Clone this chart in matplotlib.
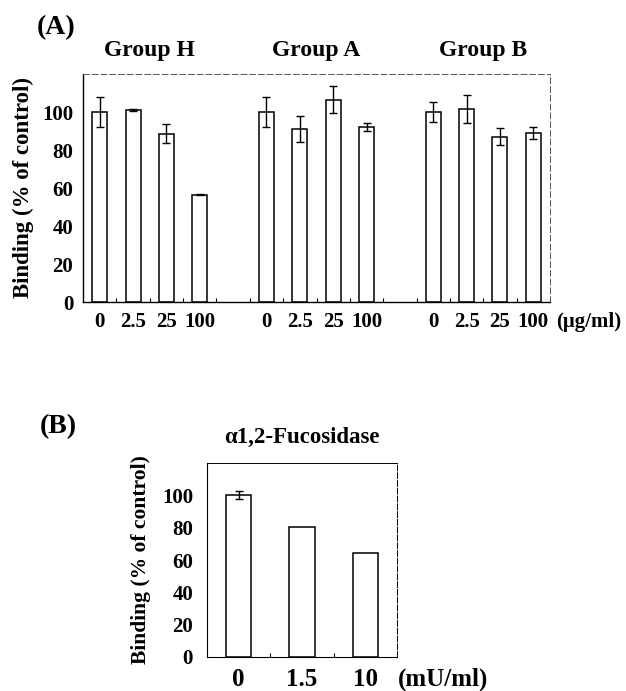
import numpy as np
import matplotlib
matplotlib.use('Agg')
import matplotlib.pyplot as plt

plt.rcParams['font.family'] = ['Liberation Serif', 'DejaVu Serif']
plt.rcParams['font.weight'] = 'bold'

# Panel A data
groups = ['Group H', 'Group A', 'Group B']
doses = ['0', '2.5', '25', '100']
vals_H = [100, 101, 88.5, 56.5]
err_H = [8, 0.5, 5, 0.4]
vals_A = [100, 91, 106.5, 92]
err_A = [8, 7, 7, 2]
vals_B = [100, 101.5, 87, 89]
err_B = [5.5, 7.5, 4.5, 3]

# Panel B data
fuc_doses = ['0', '1.5', '10']
fuc_vals = [100, 80.5, 64.5]
fuc_err = [2.5, 0, 0]

fig = plt.figure(figsize=(6.26, 6.91), dpi=100)

#### Panel A ####
ax1 = fig.add_axes([83/626, 1-302/691, 467/626, 228/691])
all_vals = [vals_H, vals_A, vals_B]
all_err = [err_H, err_A, err_B]
xpos = []
xlabels = []
for g in range(3):
    x = np.arange(4) + 5*g
    ax1.bar(x, all_vals[g], width=0.45, color='white', edgecolor='black', lw=1.1)
    ax1.errorbar(x, all_vals[g], yerr=all_err[g], fmt='none', ecolor='black',
                 elinewidth=1, capsize=3, capthick=1)
    xpos += list(x)
    xlabels += doses
    ax1.text(x.mean(), 1.105, groups[g], transform=ax1.get_xaxis_transform(),
             ha='center', va='center', fontsize=17, fontweight='bold')

ax1.set_xlim(-0.5, 13.5)
ax1.set_ylim(0, 120)
ax1.set_yticks([0, 20, 40, 60, 80, 100])
ax1.set_xticks(xpos)
ax1.set_xticklabels(xlabels)
ax1.set_xticks(np.arange(0.5, 13.5, 1), minor=True)
ax1.tick_params(axis='y', length=0, pad=7, labelsize=15)
ax1.tick_params(axis='x', which='major', length=0, pad=7, labelsize=15)
ax1.tick_params(axis='x', which='minor', direction='in', length=3, width=0.8)
ax1.set_ylabel('Binding (% of control)', fontsize=16.5, fontweight='bold', labelpad=6)
for s in ['top', 'right']:
    ax1.spines[s].set_linestyle((0, (6, 3)))
    ax1.spines[s].set_linewidth(0.7)
    ax1.spines[s].set_color('#555555')
ax1.spines['left'].set_linewidth(1)
ax1.spines['bottom'].set_linewidth(1)
ax1.text(13.68, -0.088, '(\u03bcg/ml)', transform=ax1.get_xaxis_transform(),
         ha='left', va='center', fontsize=15, fontweight='bold')
fig.text(37/626, 1-28/691, '(A)', fontsize=20, fontweight='bold', va='center')

#### Panel B ####
ax2 = fig.add_axes([207/626, 1-657/691, 190/626, 194/691])
xb = np.arange(len(fuc_vals))
ax2.bar(xb, fuc_vals, width=0.4, color='white', edgecolor='black', lw=1.1)
ax2.errorbar(xb[:1], fuc_vals[:1], yerr=fuc_err[:1], fmt='none', ecolor='black',
             elinewidth=1, capsize=3, capthick=1)
ax2.set_xlim(-0.5, 2.5)
ax2.set_ylim(0, 120)
ax2.set_yticks([0, 20, 40, 60, 80, 100])
ax2.set_xticks(xb)
ax2.set_xticklabels(fuc_doses)
ax2.set_xticks([0.5, 1.5], minor=True)
ax2.tick_params(axis='y', length=0, pad=10, labelsize=15)
ax2.tick_params(axis='x', which='major', length=0, pad=8, labelsize=18)
ax2.tick_params(axis='x', which='minor', direction='in', length=3, width=0.8)
ax2.set_ylabel('Binding (% of control)', fontsize=15.5, fontweight='bold', labelpad=8)
ax2.spines['top'].set_linewidth(0.7)
ax2.spines['right'].set_linestyle((0, (6, 2)))
ax2.spines['right'].set_linewidth(0.7)
ax2.text(0.5, 1.134, '\u03b11,2-Fucosidase', transform=ax2.transAxes,
         ha='center', va='center', fontsize=16.5, fontweight='bold')
ax2.text(2.52, -0.113, '(mU/ml)', transform=ax2.get_xaxis_transform(),
         ha='left', va='center', fontsize=18, fontweight='bold')
fig.text(40/626, 1-427/691, '(B)', fontsize=20, fontweight='bold', va='center')

fig.savefig('out.png', dpi=100)
